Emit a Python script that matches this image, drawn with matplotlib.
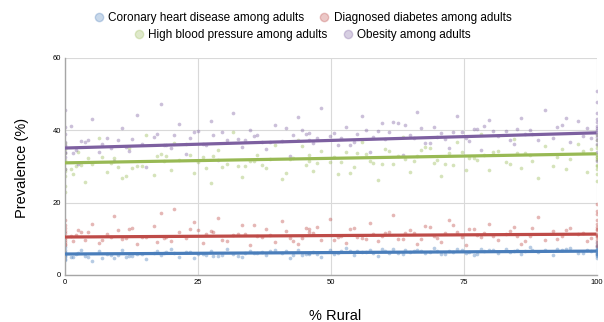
import matplotlib
matplotlib.use("Agg")
import matplotlib.pyplot as plt
from matplotlib.lines import Line2D

plt.rcParams['font.family'] = ['Liberation Sans', 'DejaVu Sans']

# % rural for each county (same counties for every measure)
pct_rural = [
    0, 0, 0, 0, 0, 1.2, 2.5, 3.8, 5.1, 6.4,
    7.9, 9.3, 10.8, 12.0, 13.6, 15.2, 16.7, 18.1, 19.9, 21.4,
    22.8, 24.3, 25.9, 27.5, 28.8, 30.4, 31.7, 33.3, 34.9, 36.2,
    37.8, 39.5, 40.9, 42.3, 43.8, 45.4, 46.7, 48.2, 49.8, 51.3,
    52.9, 54.4, 55.8, 57.3, 58.9, 60.2, 61.8, 63.5, 64.9, 66.3,
    67.8, 69.4, 70.7, 72.3, 73.8, 75.4, 76.9, 78.3, 79.8, 81.4,
    82.9, 84.5, 85.8, 87.4, 88.9, 90.3, 91.8, 93.5, 95.1, 96.6,
    98.2, 100, 100, 100, 100, 100, 100, 100, 100, 100,
    3.1, 11.5, 17.4, 26.6, 35.5, 44.6, 53.6, 62.6, 71.5, 80.6,
    8.6, 20.6, 32.5, 41.6, 50.6, 59.6, 68.6, 77.6, 86.6, 94.3,
    0, 0, 0, 4.4, 14.4, 23.6, 29.6, 38.6, 47.5, 56.6,
    65.6, 74.6, 83.7, 92.6, 97.4, 100, 100, 100, 100, 100,
    2.0, 6.9, 12.7, 19.0, 25.0, 33.9, 42.9, 51.9, 60.9, 69.9,
    78.9, 87.9, 99.0, 100, 0, 0, 45.9, 55.0, 64.0, 73.0,
    1.6, 9.9, 18.6, 27.9, 37.0, 46.0, 58.0, 67.0, 76.1, 85.1,
]

chd = [
    5.1, 6.3, 4.2, 7.8, 5.6, 4.9, 6.0, 5.3, 3.9, 6.6,
    5.8, 4.6, 6.9, 5.2, 5.9, 4.4, 6.2, 5.5, 7.1, 5.0,
    6.4, 4.8, 5.9, 6.7, 5.3, 7.3, 5.7, 4.9, 6.5, 6.0,
    5.4, 6.8, 6.1, 4.7, 7.0, 5.8, 6.4, 5.1, 6.9, 6.2,
    7.4, 5.6, 6.3, 6.9, 5.2, 6.6, 7.2, 5.9, 6.4, 7.0,
    6.1, 7.5, 5.8, 6.7, 7.1, 6.2, 5.4, 7.3, 6.8, 6.0,
    7.2, 6.5, 5.9, 7.6, 6.4, 7.0, 5.6, 6.8, 7.4, 6.1,
    6.9, 5.2, 7.8, 6.3, 8.4, 5.7, 7.0, 4.6, 6.6, 9.0,
    6.8, 4.9, 6.6, 5.6, 6.2, 5.5, 6.7, 6.1, 5.9, 6.9,
    5.5, 6.0, 5.2, 6.5, 5.7, 7.1, 6.3, 5.8, 6.5, 7.2,
    4.5, 6.8, 5.9, 5.0, 5.7, 6.3, 5.4, 6.6, 5.9, 6.4,
    6.5, 6.9, 6.3, 7.1, 6.2, 7.3, 6.0, 8.1, 5.4, 6.8,
    5.7, 4.8, 5.3, 6.4, 5.8, 6.2, 5.6, 6.7, 6.0, 6.5,
    6.6, 7.0, 6.7, 5.9, 5.3, 6.1, 6.0, 6.6, 6.9, 6.3,
    5.0, 5.6, 6.1, 5.3, 6.4, 5.9, 6.2, 6.7, 6.4, 7.0,
]

diabetes = [
    13.8, 9.2, 11.6, 8.4, 15.3, 10.7, 12.4, 9.6, 14.1, 8.9,
    11.3, 16.2, 9.9, 12.8, 8.6, 10.4, 13.5, 17.1, 9.3, 11.8,
    10.1, 14.6, 8.8, 12.2, 15.8, 9.5, 11.0, 13.9, 8.2, 10.9,
    12.6, 9.1, 14.8, 10.3, 8.7, 13.1, 11.5, 9.7, 15.4, 10.6,
    8.9, 12.9, 10.2, 14.3, 9.4, 11.7, 16.5, 10.0, 12.3, 8.5,
    13.6, 10.8, 9.0, 15.1, 11.9, 8.3, 12.7, 10.5, 14.2, 9.8,
    11.4, 13.3, 8.6, 10.9, 15.9, 9.6, 12.1, 10.7, 13.0, 11.2,
    9.4, 12.5, 16.8, 8.1, 10.6, 14.0, 11.1, 19.5, 9.7, 13.4,
    12.0, 10.2, 9.2, 11.4, 13.7, 10.1, 12.8, 9.9, 11.6, 10.8,
    10.5, 18.2, 11.3, 12.1, 9.6, 10.9, 13.2, 11.0, 9.5, 12.4,
    10.2, 12.9, 8.7, 11.9, 10.4, 12.6, 9.8, 11.1, 13.3, 10.0,
    11.5, 10.4, 12.2, 9.9, 11.7, 10.9, 15.1, 8.8, 12.7, 11.3,
    11.0, 9.6, 13.1, 10.5, 12.4, 11.2, 9.4, 10.7, 12.0, 10.3,
    11.6, 12.9, 10.2, 17.6, 12.1, 9.8, 11.9, 10.6, 11.5, 13.8,
    9.3, 12.3, 10.1, 11.8, 10.6, 12.7, 11.3, 9.9, 12.6, 10.8,
]

high_bp = [
    27.4, 33.8, 24.6, 31.2, 36.5, 29.3, 34.1, 25.8, 30.7, 37.9,
    28.5, 32.4, 26.9, 35.2, 30.1, 38.6, 27.7, 33.5, 29.0, 31.9,
    36.1, 28.2, 32.7, 25.4, 34.6, 30.8, 39.4, 27.1, 31.5, 33.2,
    29.6, 35.8, 26.4, 32.1, 37.3, 30.3, 28.7, 34.4, 31.1, 27.9,
    33.9, 29.8, 36.7, 31.6, 26.2, 34.9, 30.6, 38.1, 28.4, 32.8,
    35.4, 30.9, 27.5, 33.6, 36.9, 29.1, 32.3, 39.0, 28.9, 34.2,
    31.3, 37.6, 29.5, 33.1, 26.8, 35.7, 30.2, 34.8, 32.0, 36.3,
    28.6, 33.4, 38.8, 30.0, 26.1, 35.0, 31.8, 29.4, 37.2, 32.6,
    30.4, 27.3, 33.0, 29.7, 31.4, 35.6, 28.1, 32.9, 30.6, 34.0,
    31.0, 36.4, 30.2, 28.3, 32.5, 30.7, 35.1, 31.7, 33.7, 29.2,
    31.8, 22.9, 29.2, 32.3, 30.0, 33.1, 29.9, 32.0, 30.9, 33.4,
    31.5, 33.9, 30.6, 32.7, 34.4, 30.4, 36.0, 33.3, 27.8, 32.2,
    30.2, 32.6, 29.5, 33.0, 31.2, 30.0, 32.4, 31.1, 34.3, 31.9,
    33.2, 31.6, 34.7, 32.5, 34.8, 28.8, 31.5, 33.6, 32.1, 30.5,
    28.0, 29.9, 31.6, 32.8, 30.5, 33.3, 31.0, 34.6, 32.4, 33.8,
]

obesity = [
    32.5, 38.9, 29.4, 45.7, 35.6, 41.2, 30.8, 36.7, 43.1, 33.9,
    37.8, 31.6, 40.5, 34.2, 44.3, 29.9, 38.1, 47.2, 35.0, 41.8,
    33.4, 39.6, 36.2, 42.7, 31.9, 37.4, 44.8, 35.3, 40.2, 38.6,
    34.7, 41.5, 37.0, 32.8, 43.6, 39.1, 36.4, 46.3, 38.3, 35.8,
    40.8, 36.9, 43.9, 34.1, 39.7, 37.6, 42.2, 33.2, 38.8, 45.1,
    36.6, 41.0, 39.3, 35.2, 44.0, 37.9, 40.4, 34.5, 42.9, 38.5,
    39.8, 36.3, 43.3, 40.1, 37.2, 45.5, 38.0, 41.6, 36.8, 42.5,
    40.7, 34.0, 47.8, 38.2, 31.5, 43.0, 39.5, 36.1, 51.0, 41.3,
    37.1, 35.5, 39.0, 36.0, 38.4, 40.0, 35.9, 41.9, 37.5, 39.9,
    35.1, 38.7, 37.7, 40.6, 39.2, 42.1, 36.5, 40.3, 38.9, 43.4,
    36.8, 34.0, 40.9, 37.3, 36.3, 37.9, 39.4, 36.9, 38.0, 40.2,
    38.0, 39.6, 37.4, 40.8, 38.3, 42.4, 39.0, 44.9, 37.2, 40.1,
    34.6, 36.1, 37.7, 35.9, 39.8, 37.2, 38.8, 37.9, 39.4, 38.2,
    41.1, 39.1, 37.8, 40.5, 35.9, 33.6, 37.4, 38.9, 41.4, 39.6,
    33.8, 37.3, 36.0, 38.6, 36.8, 39.3, 38.1, 40.7, 37.0, 40.4,
]

labels = ["Coronary heart disease among adults", "Diagnosed diabetes among adults",
          "High blood pressure among adults", "Obesity among adults"]
series = [chd, diabetes, high_bp, obesity]
colors = ["#4a7ebb", "#be4b48", "#98b954", "#7d60a0"]

# fitted trend line values at 0% and 100% rural
trend_x = [0, 100]
trend_start = [5.8, 10.5, 31.0, 35.1]
trend_end = [6.6, 11.3, 33.5, 39.3]

fig = plt.figure(figsize=(6.04, 3.22), dpi=100)
ax = fig.add_axes([0.1076, 0.146, 0.88, 0.674])

for vals, c in zip(series, colors):
    ax.scatter(pct_rural, vals, s=7, color=c, alpha=0.4, linewidths=0, zorder=2)
for s0, s1, c in zip(trend_start, trend_end, colors):
    ax.plot(trend_x, [s0, s1], color=c, lw=2.3, zorder=3, solid_capstyle='butt')

ax.set_xlim(0, 100)
ax.set_ylim(0, 60)
ax.set_xticks([0, 25, 50, 75, 100])
ax.set_yticks([0, 20, 40, 60])
ax.tick_params(labelsize=5.5, length=0, pad=3)
ax.grid(True, color="#d9d9d9", lw=0.8, zorder=0)
for side in ["top", "right"]:
    ax.spines[side].set_visible(False)
for side in ["left", "bottom"]:
    ax.spines[side].set_color("#a6a6a6")
    ax.spines[side].set_linewidth(1.0)

fig.text(0.037, 0.48, "Prevalence (%)", rotation=90, ha="center", va="center", fontsize=10.5)
fig.text(0.555, 0.018, "% Rural", ha="center", va="center", fontsize=10.5)

handles = [Line2D([], [], marker="o", ls="", color=c, alpha=0.3, markersize=6) for c in colors]
fig.legend(handles[:2], labels[:2], ncol=2, loc="center", bbox_to_anchor=(0.5, 0.945),
           frameon=False, fontsize=8.5, handletextpad=0.3, columnspacing=1.2, handlelength=1)
fig.legend(handles[2:], labels[2:], ncol=2, loc="center", bbox_to_anchor=(0.5, 0.892),
           frameon=False, fontsize=8.5, handletextpad=0.3, columnspacing=1.2, handlelength=1)

fig.savefig("out.png", dpi=100)
